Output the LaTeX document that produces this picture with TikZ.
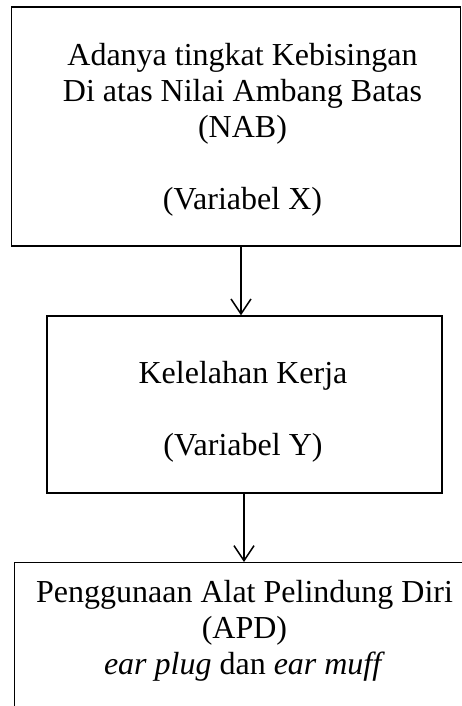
\documentclass[tikz,border=0pt]{standalone}
\usepackage{fontspec}
\setmainfont{Liberation Serif}
\usetikzlibrary{arrows.meta}
\begin{document}
\begin{tikzpicture}[x=1pt,y=-1pt,
  box/.style={draw=black,line width=1.4pt,rectangle,inner sep=0pt},
  txt/.style={align=center,inner sep=0pt,anchor=base,
    font=\fontsize{32pt}{36pt}\selectfont},
  arr/.style={line width=1.5pt,-{Straight Barb[length=15pt,width=20pt,line width=1.5pt]}}]
\useasboundingbox (0,0) rectangle (462,706);
\clip (0,0) rectangle (462,706);
% boxes
\node[box,minimum width=449pt,minimum height=239pt] (bx) at (236,126.5) {};
\node[box,minimum width=395pt,minimum height=177pt] (by) at (244.35,404.5) {};
\node[box,minimum width=470pt,minimum height=200pt,anchor=north west] (bz) at (14,562) {};
% texts (anchored at the baseline of the last line)
\node[txt] (tx) at (242.5,209) {Adanya tingkat Kebisingan\\Di atas Nilai Ambang Batas\\(NAB)\\[36pt](Variabel X)};
\node[txt] (ty) at (243,455) {Kelelahan Kerja\\[36pt](Variabel Y)};
\node[txt] (tz) at (244.5,674) {Penggunaan Alat Pelindung Diri\\(APD)\\\textit{ear plug} dan \textit{ear muff}};
% arrows
\coordinate (a1) at (241,246);
\coordinate (a2) at (244,493);
\draw[arr] (a1) -- (a1 |- by.north);
\draw[arr] (a2) -- (a2 |- bz.north);
\end{tikzpicture}
\end{document}
